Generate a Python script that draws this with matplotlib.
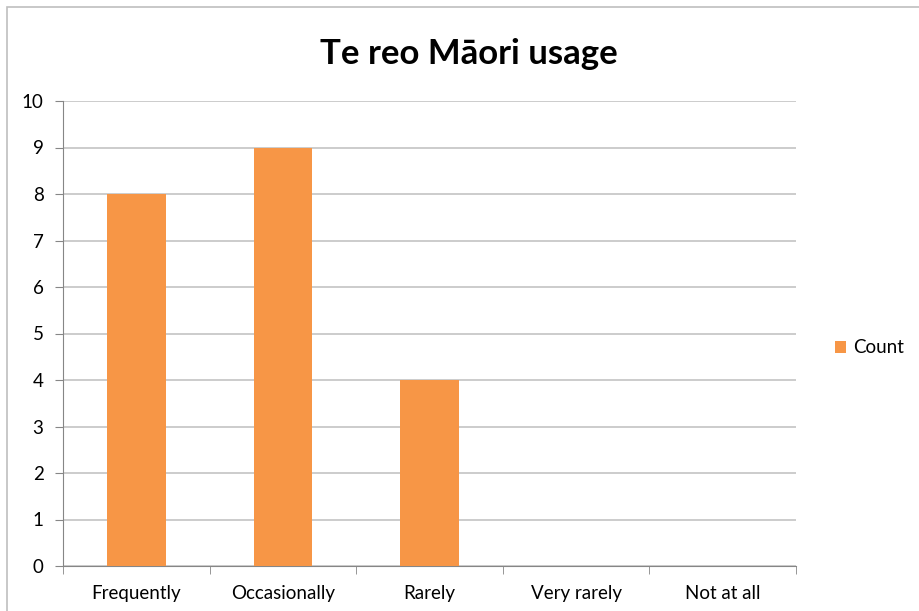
import matplotlib
matplotlib.use("Agg")
import matplotlib.pyplot as plt
from matplotlib.patches import Rectangle

categories = ["Frequently", "Occasionally", "Rarely", "Very rarely", "Not at all"]
counts = [8, 9, 4, 0, 0]
yticks = list(range(0, 11))
title = "Te reo Māori usage"
series_name = "Count"

plt.rcParams['font.family'] = ['Lato', 'DejaVu Sans']

fig = plt.figure(figsize=(9.19, 6.11), dpi=100)
# chart border
fig.patches.append(Rectangle((7/919, -0.1), 1.2, 1 - 6.5/611 + 0.1, transform=fig.transFigure,
                             fill=False, edgecolor='#BFBFBF', linewidth=1.2, zorder=0))

ax = fig.add_axes([63/919, 1 - 566/611, (796 - 63)/919, (566 - 101)/611])
x = list(range(len(categories)))
bars = ax.bar(x, counts, width=0.4, color='#F79646', zorder=3, label=series_name)

fs = 13.5
ax.set_xlim(-0.5, len(categories) - 0.5)
ax.set_ylim(0, 10)
ax.set_yticks(yticks)
ax.set_yticklabels([str(t) for t in yticks], fontsize=fs)
ax.set_xticks(x)
ax.set_xticklabels(categories, fontsize=fs)
ax.tick_params(axis='x', length=0, pad=14)
ax.tick_params(axis='y', length=6, color='#868686', pad=8)
ax.set_xticks([i - 0.5 for i in range(len(categories) + 1)], minor=True)
ax.tick_params(axis='x', which='minor', length=6, color='#868686', direction='out')

ax.grid(axis='y', color='#BFBFBF', linewidth=1.1, zorder=0)
ax.set_axisbelow(True)
for s in ['top', 'right']:
    ax.spines[s].set_visible(False)
ax.spines['left'].set_color('#868686')
ax.spines['bottom'].set_color('#868686')

fig.text(469/919, 1 - 54/611, title, ha='center', va='center',
         fontsize=25, fontweight='bold')

leg = ax.legend(loc='center left', bbox_to_anchor=(1.03, 0.469), frameon=False,
                fontsize=fs, handlelength=0.6, handleheight=0.6, handletextpad=0.35)

fig.savefig("out.png", dpi=100)
